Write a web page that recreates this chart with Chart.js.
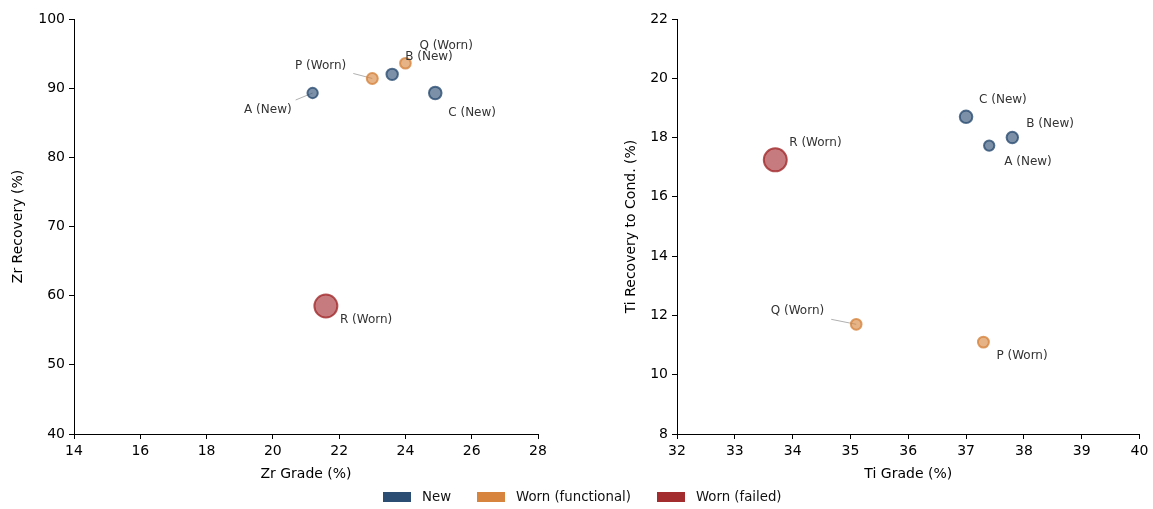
<!DOCTYPE html>
<html>
<head>
<meta charset="utf-8">
<script src="https://cdn.jsdelivr.net/npm/chart.js@4.4.1/dist/chart.umd.min.js"></script>
<style>
  html, body { margin: 0; padding: 0; background: #fff; }
  #wrap { position: relative; width: 1153px; height: 509px; font-family: 'DejaVu Sans', sans-serif; }
  #cvL { position: absolute; left: 0; top: 0; }
  #cvR { position: absolute; left: 577px; top: 0; }
  #legend { position: absolute; left: 383px; top: 489px; display: flex; align-items: center; font-size: 13.3px; color: #111; }
  #legend .item { display: flex; align-items: center; margin-right: 26px; }
  #legend .box { width: 28px; height: 10px; margin-right: 11px; }
</style>
</head>
<body>
<div id="wrap">
  <canvas id="cvL" width="576" height="490"></canvas>
  <canvas id="cvR" width="576" height="490"></canvas>
  <div id="legend"></div>
</div>
<script>
  // ---- data ----
  const samples = ['A (New)', 'B (New)', 'C (New)', 'P (Worn)', 'Q (Worn)', 'R (Worn)'];
  const condition = ['New', 'New', 'New', 'Worn (functional)', 'Worn (functional)', 'Worn (failed)'];
  const conditions = ['New', 'Worn (functional)', 'Worn (failed)'];
  const zrGrade = [21.2, 23.6, 24.9, 23.0, 24.0, 21.6];
  const zrRecovery = [89.3, 92.0, 89.3, 91.4, 93.6, 58.5];
  const tiGrade = [37.4, 37.8, 37.0, 37.3, 35.1, 33.7];
  const tiRecovery = [17.73, 18.0, 18.7, 11.1, 11.7, 17.25];
  const markerSize = [38, 45, 53, 42, 40, 156];   // relative bubble area

  const zrXTicks = [14, 16, 18, 20, 22, 24, 26, 28];
  const zrYTicks = [40, 50, 60, 70, 80, 90, 100];
  const tiXTicks = [32, 33, 34, 35, 36, 37, 38, 39, 40];
  const tiYTicks = [8, 10, 12, 14, 16, 18, 20, 22];

  // ---- styles ----
  const COLORS = { 'New': [44, 77, 115], 'Worn (functional)': [214, 132, 62], 'Worn (failed)': [163, 44, 46] };
  const rgba = (c, a) => `rgba(${c[0]},${c[1]},${c[2]},${a})`;
  const FONT = "'DejaVu Sans', sans-serif";

  // label offsets in px: [dx, dy, align, leaderDx, leaderDy]
  const zrLabelPos = {
    'A (New)': [-21, 17, 'right', -17, 7],
    'B (New)': [13, -17, 'left'],
    'C (New)': [13, 20, 'left'],
    'P (Worn)': [-26, -13, 'right', -19, -5],
    'Q (Worn)': [14, -17, 'left'],
    'R (Worn)': [14, 14, 'left'],
  };
  const tiLabelPos = {
    'A (New)': [15, 16, 'left'],
    'B (New)': [14, -14, 'left'],
    'C (New)': [13, -17, 'left'],
    'P (Worn)': [13, 14, 'left'],
    'Q (Worn)': [-32, -13, 'right', -25, -5],
    'R (Worn)': [14, -17, 'left'],
  };

  const pointLabels = {
    id: 'pointLabels',
    beforeDatasetsDraw(chart, args, opts) {
      const ctx = chart.ctx;
      ctx.save();
      ctx.strokeStyle = '#b0b0b0';
      ctx.lineWidth = 1;
      chart.data.datasets.forEach((ds, di) => {
        chart.getDatasetMeta(di).data.forEach((el, i) => {
          const p = opts.pos[ds.data[i].name];
          if (!p || p.length < 5) return;
          ctx.beginPath();
          ctx.moveTo(el.x + p[3], el.y + p[4]);
          ctx.lineTo(el.x, el.y);
          ctx.stroke();
        });
      });
      ctx.restore();
    },
    afterDatasetsDraw(chart, args, opts) {
      const ctx = chart.ctx;
      ctx.save();
      ctx.font = '12px ' + FONT;
      ctx.fillStyle = '#333';
      ctx.textBaseline = 'middle';
      chart.data.datasets.forEach((ds, di) => {
        chart.getDatasetMeta(di).data.forEach((el, i) => {
          const name = ds.data[i].name;
          const p = opts.pos[name];
          if (!p) return;
          ctx.textAlign = p[2];
          ctx.fillText(name, el.x + p[0], el.y + p[1]);
        });
      });
      ctx.restore();
    }
  };

  function makeDatasets(xs, ys) {
    return conditions.map(c => ({
      label: c,
      data: samples.map((s, i) => ({ name: s, x: xs[i], y: ys[i], r: Math.sqrt(markerSize[i]) - 1, c: condition[i] }))
                   .filter(d => d.c === c),
      backgroundColor: rgba(COLORS[c], 0.62),
      borderColor: rgba(COLORS[c], 0.8),
      borderWidth: 2,
    }));
  }

  function axis(min, max, ticks, title, isY, titleOffset, fixedSize) {
    return {
      type: 'linear', min, max,
      afterBuildTicks: s => { s.ticks = ticks.map(v => ({ value: v })); },
      afterFit: s => { if (isY) s.width = fixedSize; else s.height = fixedSize; },
      grid: { drawOnChartArea: false, drawTicks: true, tickLength: 5, color: '#000', lineWidth: 1 },
      border: { display: true, color: '#000', width: 1 },
      ticks: { color: '#000', font: { family: FONT, size: 14 }, padding: 4 },
      title: { display: true, text: title, color: '#000', font: { family: FONT, size: 14 },
               padding: isY ? { top: titleOffset, bottom: 0 } : { top: 0, bottom: titleOffset } },
    };
  }

  function makeChart(id, xs, ys, xA, yA, labelPos, padR) {
    return new Chart(document.getElementById(id), {
      type: 'bubble',
      data: { datasets: makeDatasets(xs, ys) },
      options: {
        responsive: false,
        animation: false,
        layout: { padding: { left: 0, right: padR, top: 19, bottom: 0 } },
        plugins: { legend: { display: false }, tooltip: { enabled: false }, pointLabels: { pos: labelPos } },
        scales: { x: xA, y: yA },
      },
      plugins: [pointLabels],
    });
  }

  makeChart('cvL', zrGrade, zrRecovery,
    axis(14, 28, zrXTicks, 'Zr Grade (%)', false, 7, 56),
    axis(40, 100, zrYTicks, 'Zr Recovery (%)', true, 10, 74),
    zrLabelPos, 38);

  makeChart('cvR', tiGrade, tiRecovery,
    axis(32, 40, tiXTicks, 'Ti Grade (%)', false, 7, 56),
    axis(8, 22, tiYTicks, 'Ti Recovery to Cond. (%)', true, 46, 100),
    tiLabelPos, 13);

  // shared legend
  const leg = document.getElementById('legend');
  conditions.forEach(c => {
    const it = document.createElement('div');
    it.className = 'item';
    it.innerHTML = `<span class="box" style="background:${rgba(COLORS[c], 1)}"></span><span>${c}</span>`;
    leg.appendChild(it);
  });
</script>
</body>
</html>
